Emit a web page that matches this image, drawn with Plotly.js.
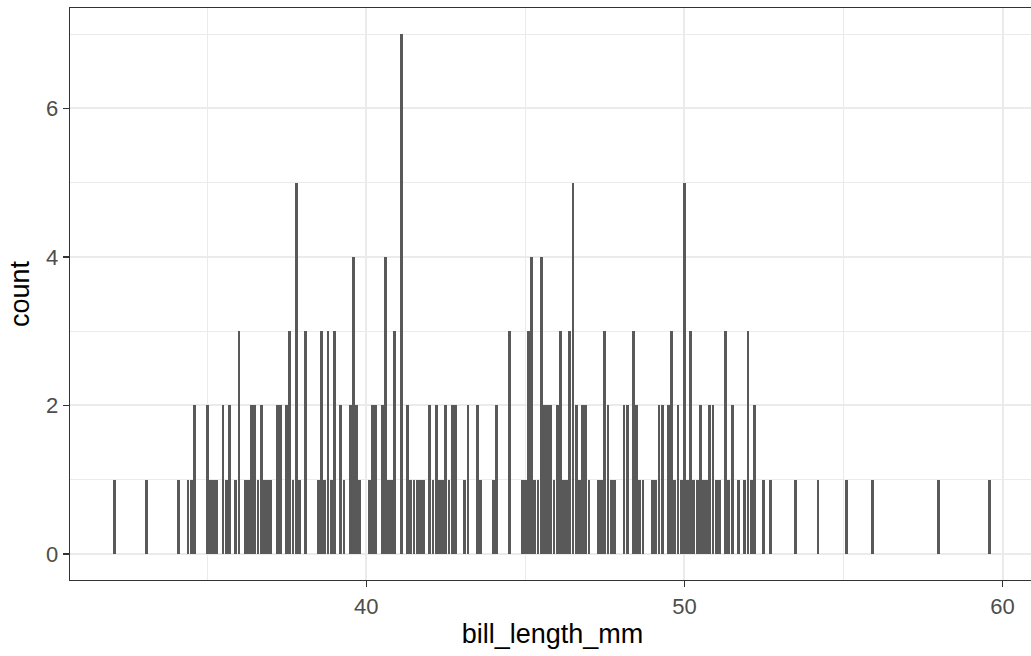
<!DOCTYPE html>
<html>
<head>
<meta charset="utf-8">
<script src="https://cdn.plot.ly/plotly-3.0.1.min.js"></script>
<style>
  html, body { margin: 0; padding: 0; background: #ffffff; overflow: hidden; width: 1031px; height: 656px; }
  #chart { width: 1040px; height: 656px; }
</style>
</head>
<body>
<div id="chart"></div>
<script>
// Distinct bill lengths (mm) and how many penguins have each value
const billLength = [
  32.1, 33.1, 34.1, 34.4, 34.5, 34.6, 35.0, 35.1, 35.2, 35.3,
  35.5, 35.6, 35.7, 35.9, 36.0, 36.2, 36.3, 36.4, 36.5, 36.6,
  36.7, 36.8, 36.9, 37.0, 37.2, 37.3, 37.5, 37.6, 37.7, 37.8,
  37.9, 38.1, 38.5, 38.6, 38.7, 38.8, 38.9, 39.0, 39.2, 39.3,
  39.5, 39.6, 39.7, 39.8, 40.1, 40.2, 40.3, 40.5, 40.6, 40.7,
  40.8, 40.9, 41.1, 41.3, 41.4, 41.5, 41.6, 41.7, 41.8, 42.0,
  42.1, 42.2, 42.3, 42.4, 42.5, 42.6, 42.7, 42.8, 43.1, 43.2,
  43.5, 43.6, 44.0, 44.1, 44.5, 44.9, 45.0, 45.1, 45.2, 45.3,
  45.4, 45.5, 45.6, 45.7, 45.8, 45.9, 46.0, 46.1, 46.2, 46.3,
  46.4, 46.5, 46.6, 46.7, 46.8, 46.9, 47.0, 47.3, 47.4, 47.5,
  47.6, 47.7, 47.8, 48.1, 48.2, 48.4, 48.5, 48.6, 48.7, 49.0,
  49.1, 49.2, 49.3, 49.5, 49.6, 49.7, 49.8, 49.9, 50.0, 50.1,
  50.2, 50.3, 50.4, 50.5, 50.6, 50.7, 50.8, 50.9, 51.0, 51.1,
  51.3, 51.4, 51.5, 51.7, 51.9, 52.0, 52.1, 52.2, 52.5, 52.7,
  53.5, 54.2, 55.1, 55.9, 58.0, 59.6
];
const counts = [
  1, 1, 1, 1, 1, 2, 2, 1, 1, 1,
  2, 1, 2, 1, 3, 1, 1, 2, 2, 1,
  2, 1, 1, 1, 2, 2, 2, 3, 1, 5,
  1, 3, 1, 3, 1, 3, 1, 3, 2, 1,
  2, 4, 2, 1, 1, 2, 2, 2, 4, 1,
  1, 3, 7, 2, 1, 1, 1, 1, 1, 2,
  1, 2, 1, 1, 2, 1, 2, 2, 1, 2,
  2, 1, 1, 2, 3, 1, 1, 3, 4, 1,
  1, 4, 2, 2, 2, 1, 2, 3, 1, 1,
  3, 5, 2, 1, 2, 2, 1, 1, 1, 3,
  2, 1, 1, 2, 2, 3, 2, 1, 1, 1,
  1, 2, 2, 2, 3, 1, 2, 1, 5, 1,
  3, 1, 1, 2, 1, 1, 2, 2, 1, 1,
  3, 1, 2, 1, 1, 3, 1, 2, 1, 1,
  1, 1, 1, 1, 1, 1
];

const xTickVals = [40, 50, 60];
const xMinorVals = [35, 45, 55];
const yTickVals = [0, 2, 4, 6];
const yMinorVals = [1, 3, 5, 7];
const xTitle = 'bill_length_mm';
const yTitle = 'count';

const trace = {
  type: 'bar',
  x: billLength,
  y: counts,
  width: 0.09,
  marker: { color: '#595959', line: { width: 0 } },
  hoverinfo: 'x+y'
};

const fontFamily = '"Liberation Sans", Arial, "DejaVu Sans", sans-serif';

const layout = {
  width: 1040,
  height: 656,
  margin: { l: 70, r: 5, t: 8, b: 76, pad: 0 },
  paper_bgcolor: '#ffffff',
  plot_bgcolor: '#ffffff',
  showlegend: false,
  bargap: 0,
  font: { family: fontFamily, color: '#4D4D4D' },
  xaxis: {
    range: [30.69, 61.02],
    tickvals: xTickVals,
    ticktext: xTickVals.map(String),
    ticks: 'outside',
    ticklen: 6,
    tickwidth: 1.3,
    tickcolor: '#333333',
    tickfont: { size: 22, color: '#4D4D4D', family: fontFamily },
    showline: true,
    mirror: true,
    linecolor: '#333333',
    linewidth: 1.3,
    showgrid: true,
    gridcolor: '#EBEBEB',
    gridwidth: 2,
    zeroline: false,
    minor: { tickvals: xMinorVals, showgrid: true, gridcolor: '#EBEBEB', gridwidth: 1, ticks: '' },
    title: { text: xTitle, font: { size: 27, color: '#000000', family: fontFamily }, standoff: 6 }
  },
  yaxis: {
    range: [-0.35, 7.35],
    tickvals: yTickVals,
    ticktext: yTickVals.map(String),
    ticks: 'outside',
    ticklen: 6,
    tickwidth: 1.3,
    tickcolor: '#333333',
    tickfont: { size: 22, color: '#4D4D4D', family: fontFamily },
    showline: true,
    mirror: true,
    linecolor: '#333333',
    linewidth: 1.3,
    showgrid: true,
    gridcolor: '#EBEBEB',
    gridwidth: 2,
    zeroline: false,
    minor: { tickvals: yMinorVals, showgrid: true, gridcolor: '#EBEBEB', gridwidth: 1, ticks: '' },
    title: { text: yTitle, font: { size: 27, color: '#000000', family: fontFamily }, standoff: 8 }
  }
};

Plotly.newPlot('chart', [trace], layout, { staticPlot: true, displayModeBar: false });
</script>
</body>
</html>
